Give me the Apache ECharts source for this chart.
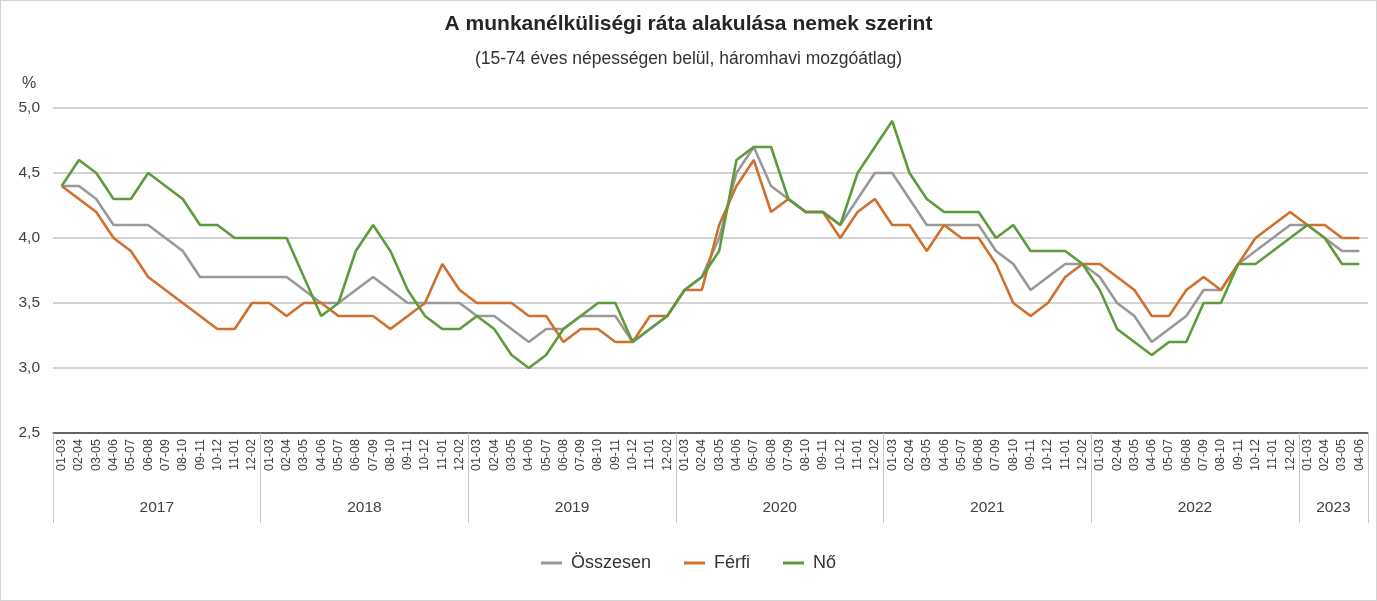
<!DOCTYPE html>
<html>
<head>
<meta charset="utf-8">
<script src="https://cdn.jsdelivr.net/npm/echarts@6/dist/echarts.min.js"></script>
<style>
html,body{margin:0;padding:0;background:#fff;}
#wrap{position:relative;width:1377px;height:601px;}
#chart{position:absolute;left:0;top:0;width:1377px;height:601px;}
#frame{position:absolute;left:0;top:0;width:1375px;height:599px;border:1px solid #d4d4d4;pointer-events:none;}
</style>
</head>
<body>
<div id="wrap"><div id="chart"></div><div id="frame"></div></div>
<script>
// ---- data ----
const months = ['01-03','02-04','03-05','04-06','05-07','06-08','07-09','08-10','09-11','10-12','11-01','12-02'];
const years = ['2017','2018','2019','2020','2021','2022','2023'];
const monthsPerYear = [12,12,12,12,12,12,4];
const yTicks = [2.5,3.0,3.5,4.0,4.5,5.0];

const osszesen = [
  4.4,4.4,4.3,4.1,4.1,4.1,4.0,3.9,3.7,3.7,3.7,3.7,
  3.7,3.7,3.6,3.5,3.5,3.6,3.7,3.6,3.5,3.5,3.5,3.5,
  3.4,3.4,3.3,3.2,3.3,3.3,3.4,3.4,3.4,3.2,3.3,3.4,
  3.6,3.7,4.0,4.5,4.7,4.4,4.3,4.2,4.2,4.1,4.3,4.5,
  4.5,4.3,4.1,4.1,4.1,4.1,3.9,3.8,3.6,3.7,3.8,3.8,
  3.7,3.5,3.4,3.2,3.3,3.4,3.6,3.6,3.8,3.9,4.0,4.1,
  4.1,4.0,3.9,3.9
];
const ferfi = [
  4.4,4.3,4.2,4.0,3.9,3.7,3.6,3.5,3.4,3.3,3.3,3.5,
  3.5,3.4,3.5,3.5,3.4,3.4,3.4,3.3,3.4,3.5,3.8,3.6,
  3.5,3.5,3.5,3.4,3.4,3.2,3.3,3.3,3.2,3.2,3.4,3.4,
  3.6,3.6,4.1,4.4,4.6,4.2,4.3,4.2,4.2,4.0,4.2,4.3,
  4.1,4.1,3.9,4.1,4.0,4.0,3.8,3.5,3.4,3.5,3.7,3.8,
  3.8,3.7,3.6,3.4,3.4,3.6,3.7,3.6,3.8,4.0,4.1,4.2,
  4.1,4.1,4.0,4.0
];
const no = [
  4.4,4.6,4.5,4.3,4.3,4.5,4.4,4.3,4.1,4.1,4.0,4.0,
  4.0,4.0,3.7,3.4,3.5,3.9,4.1,3.9,3.6,3.4,3.3,3.3,
  3.4,3.3,3.1,3.0,3.1,3.3,3.4,3.5,3.5,3.2,3.3,3.4,
  3.6,3.7,3.9,4.6,4.7,4.7,4.3,4.2,4.2,4.1,4.5,4.7,
  4.9,4.5,4.3,4.2,4.2,4.2,4.0,4.1,3.9,3.9,3.9,3.8,
  3.6,3.3,3.2,3.1,3.2,3.2,3.5,3.5,3.8,3.8,3.9,4.0,
  4.1,4.0,3.8,3.8
];

// ---- build categories ----
const categories = [];
monthsPerYear.forEach(n => { for (let i = 0; i < n; i++) categories.push(months[i]); });
// year axis: boundary points (n+1), labels at year-group centers
const yearAxisData = new Array(categories.length + 1).fill('');
const yearBounds = [0];
let acc = 0;
monthsPerYear.forEach((n, i) => {
  yearAxisData[acc + n / 2] = years[i];
  acc += n;
  yearBounds.push(acc);
});
yearAxisData.forEach((v, i) => { if (v === '') yearAxisData[i] = ' '.repeat(i + 1); });

const FONT = '"Liberation Sans", Arial, sans-serif';
const chart = echarts.init(document.getElementById('chart'));
chart.setOption({
  animation: false,
  textStyle: { fontFamily: FONT },
  title: [
    { text: 'A munkanélküliségi ráta alakulása nemek szerint', left: 'center', top: 9,
      textStyle: { fontSize: 21, fontWeight: 'bold', color: '#262626', fontFamily: FONT } },
    { text: '(15-74 éves népességen belül, háromhavi mozgóátlag)', left: 'center', top: 45,
      textStyle: { fontSize: 17.5, fontWeight: 'normal', color: '#333', fontFamily: FONT } },
    { text: '%', left: 17, top: 71,
      textStyle: { fontSize: 16, fontWeight: 'normal', color: '#404040', fontFamily: FONT } }
  ],
  legend: {
    top: 549, left: 'center', icon: 'rect', itemWidth: 21, itemHeight: 3, itemGap: 33,
    textStyle: { fontSize: 18, color: '#333', fontFamily: FONT, padding: [0, 0, 0, 4] },
    data: ['Összesen', 'Férfi', 'Nő']
  },
  grid: { left: 53, right: 9, top: 108, bottom: 168 },
  xAxis: [
    {
      type: 'category', data: categories, boundaryGap: true, position: 'bottom',
      axisLine: { lineStyle: { color: '#404040', width: 1.5 } },
      axisTick: { interval: 0, length: 60, lineStyle: { color: '#c8c8c8', width: 1 } },
      axisLabel: { interval: 0, rotate: 90, fontSize: 12.5, color: '#404040', margin: 6, fontFamily: FONT }
    },
    {
      type: 'category', data: yearAxisData, boundaryGap: false, position: 'bottom', offset: 0,
      axisLine: { show: false },
      axisTick: { show: true, interval: (i) => yearBounds.indexOf(i) >= 0, length: 90,
                  lineStyle: { color: '#c8c8c8', width: 1 } },
      axisLabel: { interval: 0, fontSize: 15.5, color: '#404040', margin: 67, fontFamily: FONT,
                   formatter: (v) => v.trim() }
    }
  ],
  yAxis: {
    type: 'value', min: yTicks[0], max: yTicks[yTicks.length - 1], interval: 0.5,
    axisLine: { show: false }, axisTick: { show: false },
    splitLine: { lineStyle: { color: '#c4c4c4', width: 1.5 } },
    axisLabel: { fontSize: 15.5, color: '#404040', margin: 13, fontFamily: FONT,
                 formatter: (v) => v.toFixed(1).replace('.', ',') }
  },
  series: [
    { name: 'Összesen', type: 'line', data: osszesen, showSymbol: false, symbol: 'none',
      lineStyle: { color: '#999999', width: 2.6 }, itemStyle: { color: '#999999' } },
    { name: 'Férfi', type: 'line', data: ferfi, showSymbol: false, symbol: 'none',
      lineStyle: { color: '#d0702e', width: 2.6 }, itemStyle: { color: '#d0702e' } },
    { name: 'Nő', type: 'line', data: no, showSymbol: false, symbol: 'none',
      lineStyle: { color: '#5f9a3c', width: 2.6 }, itemStyle: { color: '#5f9a3c' } }
  ]
});
</script>
</body>
</html>
